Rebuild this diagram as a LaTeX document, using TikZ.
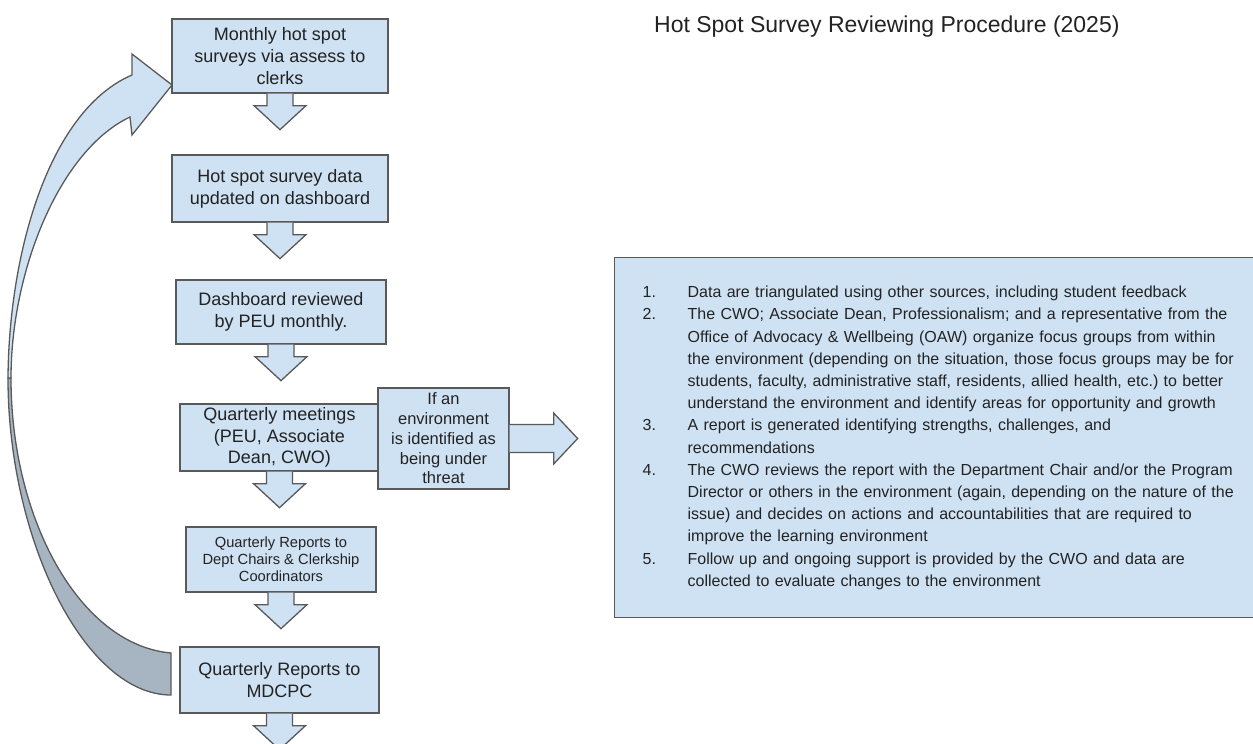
\documentclass[tikz,border=0pt]{standalone}
\usepackage{fontspec}
\setmainfont{Liberation Sans}
\definecolor{boxblue}{HTML}{CFE2F3}
\definecolor{backgray}{HTML}{A6B5C1}
\definecolor{edgegray}{HTML}{595959}
\definecolor{inkgray}{HTML}{222222}

\begin{document}
\begin{tikzpicture}[x=1pt,y=-1pt,
  box/.style={draw=edgegray,fill=boxblue,line width=1.3pt,inner sep=0pt,align=center,text=inkgray,
    font=\fontsize{18}{22}\selectfont},
  blk/.style={draw=edgegray,fill=boxblue,line width=1.3pt,line join=miter}]

\useasboundingbox (0,0) rectangle (1253,744);

% curved arrow back to the top (back part, then front part)
\draw [blk,fill=backgray] (8,378) .. controls (8,540) and (85,695) .. (171,695) -- (171,653)
  .. controls (80,645) and (11,520) .. (11,378) -- cycle;
\draw [blk] (11,378) .. controls (11,270) and (60,150) .. (130,117) -- (132,135) -- (172,85)
  -- (132,54) -- (132,75) .. controls (50,110) and (9,250) .. (8,378) -- cycle;

\node [box,minimum width=216pt,minimum height=74pt] (monthly) at (280,56)
  {Monthly hot spot\\surveys via assess to\\clerks};
\node [box,minimum width=216pt,minimum height=67pt] (dashdata) at (280,188.5)
  {Hot spot survey data\\updated on dashboard};
\node [box,minimum width=210pt,minimum height=64pt] (reviewed) at (281,312)
  {Dashboard reviewed\\by PEU monthly.};
\node [box,minimum width=199pt,minimum height=67pt,font=\fontsize{18}{21.5}\selectfont] (meetings) at (279.5,437.5)
  {Quarterly meetings\\(PEU, Associate\\Dean, CWO)};
\node [box,minimum width=131pt,minimum height=101pt,font=\fontsize{16.5}{19.8}\selectfont] (threat) at (443.5,438.5)
  {If an\\environment\\is identified as\\being under\\threat};
\node [box,minimum width=190pt,minimum height=65pt,font=\fontsize{14.7}{17}\selectfont] (deptrep) at (281,559.5)
  {Quarterly Reports to\\Dept Chairs \& Clerkship\\Coordinators};
\node [box,minimum width=199pt,minimum height=66pt] (mdcpc) at (279.5,680)
  {Quarterly Reports to\\MDCPC};

% block arrows down
\foreach \n in {monthly,dashdata,reviewed,meetings,deptrep,mdcpc}
  \draw [blk] ([xshift=-13pt]\n.south) -- ++(0,12) -- ++(-13,0) -- ++(26,24) -- ++(26,-24)
    -- ++(-13,0) -- ++(0,-12);

% block arrow to the right
\draw [blk] ([yshift=14pt]threat.east) -- ++(44,0) -- ++(0,-11.5) -- ++(24,25.5) -- ++(-24,25.5)
  -- ++(0,-11.5) -- ++(-44,0);

\node [anchor=base west,inner sep=0pt,text=inkgray,font=\fontsize{23}{28}\selectfont] (title) at (654,32)
  {Hot Spot Survey Reviewing Procedure (2025)};

\node [box,anchor=north west,minimum width=639pt,minimum height=360pt,inner xsep=28pt,
  text width=583pt,align=left,font=\fontsize{16}{22.2}\selectfont] (steps) at (614,257)
  {\begin{tabular}{@{}p{45pt}@{}l@{}}
  1. & Data are triangulated using other sources, including student feedback\\
  2. & The CWO; Associate Dean, Professionalism; and a representative from the\\
     & Office of Advocacy \& Wellbeing (OAW) organize focus groups from within\\
     & the environment (depending on the situation, those focus groups may be for\\
     & students, faculty, administrative staff, residents, allied health, etc.)\ to better\\
     & understand the environment and identify areas for opportunity and growth\\
  3. & A report is generated identifying strengths, challenges, and\\
     & recommendations\\
  4. & The CWO reviews the report with the Department Chair and/or the Program\\
     & Director or others in the environment (again, depending on the nature of the\\
     & issue) and decides on actions and accountabilities that are required to\\
     & improve the learning environment\\
  5. & Follow up and ongoing support is provided by the CWO and data are\\
     & collected to evaluate changes to the environment
  \end{tabular}};

\end{tikzpicture}
\end{document}
